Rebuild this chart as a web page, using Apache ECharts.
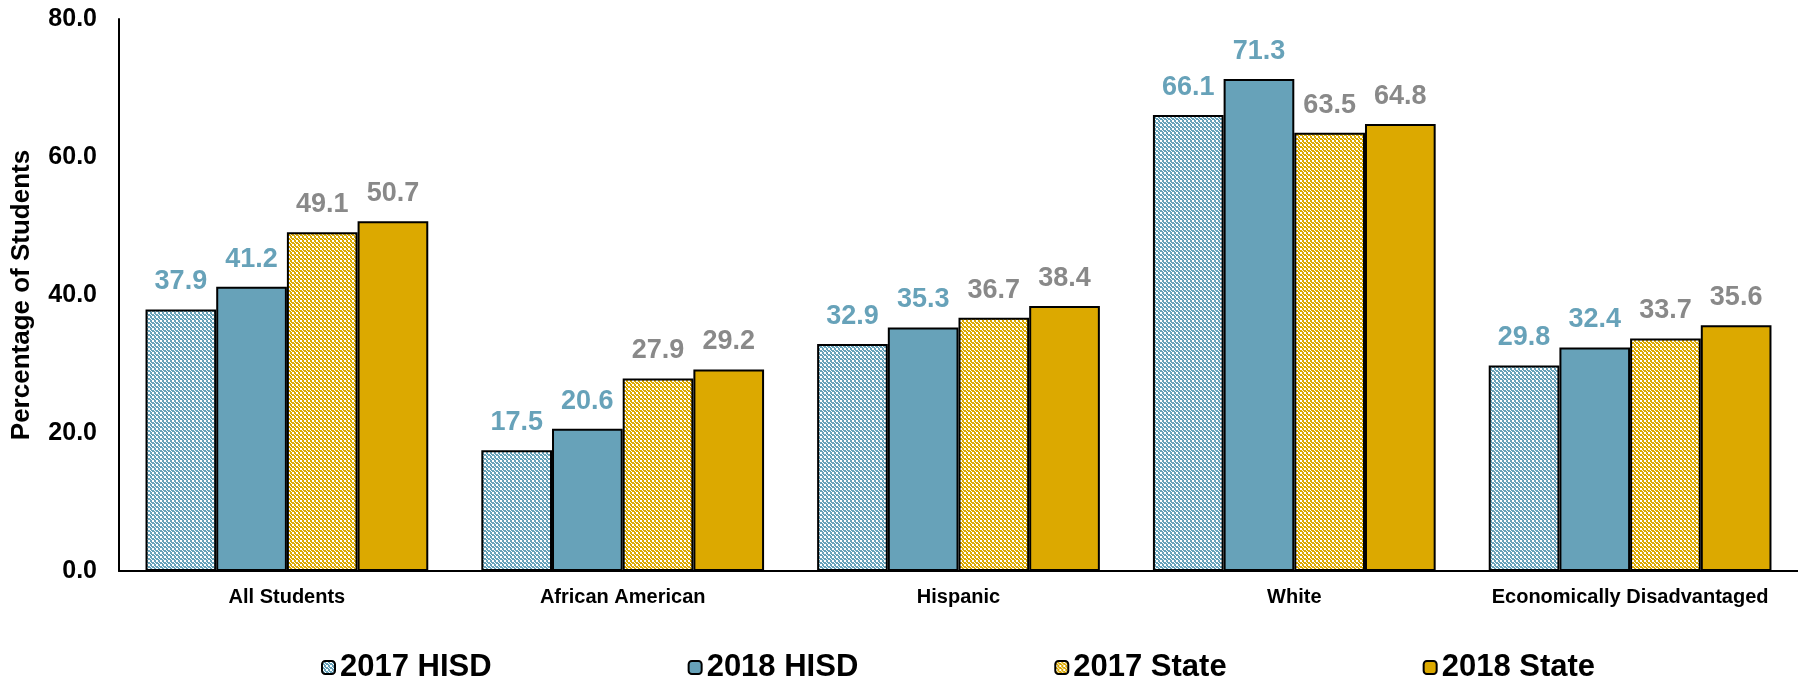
<!DOCTYPE html>
<html>
<head>
<meta charset="utf-8">
<script src="https://cdn.jsdelivr.net/npm/echarts@6/dist/echarts.min.js"></script>
<style>
    html, body { margin: 0; padding: 0; background: #fff; }
    #chart { width: 1798px; height: 677px; }
</style>
</head>
<body>
<div id="chart"></div>
<script>
const categories = ['All Students', 'African American', 'Hispanic', 'White', 'Economically Disadvantaged'];
const seriesNames = ['2017 HISD', '2018 HISD', '2017 State', '2018 State'];
const hisd2017 = [37.9, 17.5, 32.9, 66.1, 29.8];
const hisd2018 = [41.2, 20.6, 35.3, 71.3, 32.4];
const state2017 = [49.1, 27.9, 36.7, 63.5, 33.7];
const state2018 = [50.7, 29.2, 38.4, 64.8, 35.6];
const yTicks = [0, 20, 40, 60, 80];

const TEAL = '#67a2b9';
const GOLD = '#dca900';
const font = 'Liberation Sans, Arial, sans-serif';

// small dotted pattern like the excel fill
function checker(color) {
    let c = document.createElement('canvas');
    c.width = 4;
    c.height = 4;
    let ctx = c.getContext('2d');
    ctx.fillStyle = color;
    ctx.fillRect(0, 0, 4, 4);
    ctx.fillStyle = '#fff';
    ctx.fillRect(0, 0, 2, 2);
    ctx.fillRect(2, 2, 1, 1);
    ctx.fillRect(3, 3, 1, 1);
    return { image: c, repeat: 'repeat' };
}

function makeSeries(name, data, fill, labelColor) {
    return {
        name: name,
        type: 'bar',
        data: data,
        barGap: '0%',
        barCategoryGap: '15.8%',
        itemStyle: {
            color: fill,
            borderColor: '#000',
            borderWidth: 2
        },
        label: {
            show: true,
            position: 'top',
            distance: 14,
            color: labelColor,
            fontFamily: font,
            fontWeight: 'bold',
            fontSize: 27,
            formatter: (p) => p.value.toFixed(1)
        }
    };
}

let myChart = echarts.init(document.getElementById('chart'));
let option = {
    animation: false,
    grid: {
        left: 119,
        right: 0,
        top: 19,
        bottom: 106,
        outerBoundsMode: 'none'
    },
    legend: {
        data: seriesNames,
        left: 316,
        top: 647,
        itemWidth: 13,
        itemHeight: 13,
        itemGap: 196,
        textStyle: {
            color: '#000',
            fontFamily: font,
            fontWeight: 'bold',
            fontSize: 31
        }
    },
    xAxis: {
        type: 'category',
        data: categories,
        axisLine: { lineStyle: { color: '#000', width: 2 } },
        axisTick: { show: false },
        axisLabel: {
            color: '#000',
            fontFamily: font,
            fontWeight: 'bold',
            fontSize: 20,
            margin: 16,
            interval: 0
        }
    },
    yAxis: {
        type: 'value',
        min: yTicks[0],
        max: yTicks[yTicks.length - 1],
        interval: 20,
        name: 'Percentage of Students',
        nameLocation: 'middle',
        nameGap: 84,
        nameTextStyle: {
            color: '#000',
            fontFamily: font,
            fontWeight: 'bold',
            fontSize: 26
        },
        axisLine: { show: true, lineStyle: { color: '#000', width: 2 } },
        axisTick: { show: false },
        splitLine: { show: false },
        axisLabel: {
            color: '#000',
            fontFamily: font,
            fontWeight: 'bold',
            fontSize: 25,
            margin: 22,
            formatter: (v) => v.toFixed(1)
        }
    },
    series: [
        makeSeries(seriesNames[0], hisd2017, checker(TEAL), TEAL),
        makeSeries(seriesNames[1], hisd2018, TEAL, TEAL),
        makeSeries(seriesNames[2], state2017, checker(GOLD), '#898989'),
        makeSeries(seriesNames[3], state2018, GOLD, '#898989')
    ]
};
myChart.setOption(option);
</script>
</body>
</html>
